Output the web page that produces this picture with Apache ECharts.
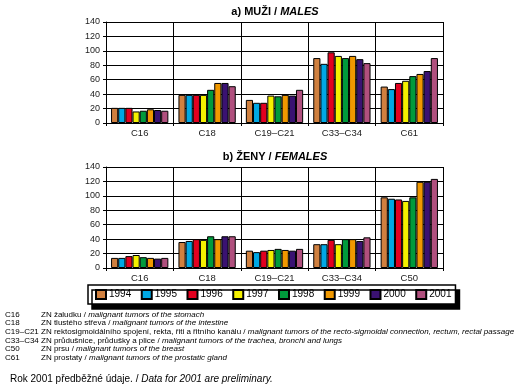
<!DOCTYPE html>
<html>
<head>
<meta charset="utf-8">
<script src="https://cdn.jsdelivr.net/npm/echarts@6/dist/echarts.min.js"></script>
<style>html,body{margin:0;padding:0;background:#fff}#c{width:527px;height:389px}</style>
</head>
<body>
<div id="c"></div>
<script>
var years = ['1994','1995','1996','1997','1998','1999','2000','2001'];
var colors = ['#D0803F','#00A8E4','#E2001F','#F4F000','#009A3C','#F09800','#3A1272','#B0507E'];
var catsMales = ['C16','C18','C19\u2013C21','C33\u2013C34','C61'];
var catsFemales = ['C16','C18','C19\u2013C21','C33\u2013C34','C50'];
var yTicks = [0,20,40,60,80,100,120,140];
// rows: years, columns: categories
var males = [
  [21, 39, 32, 90, 50.5],
  [21, 39, 28, 82, 47],
  [21, 39, 28, 98, 55.5],
  [16, 39, 38, 93, 58.5],
  [17, 46, 37, 90, 65],
  [19, 55.5, 39, 93, 68],
  [18, 55.5, 38, 88.5, 72],
  [17, 51, 46, 83, 90]
];
var females = [
  [14, 36, 24, 33, 98],
  [14, 37.5, 22, 33, 96],
  [16.5, 40, 24, 39, 95],
  [18, 39, 25, 33, 93],
  [15, 44, 26.5, 40, 98],
  [14, 40, 25, 40, 119.5],
  [13, 44, 24, 37.5, 119.5],
  [14, 44, 26.5, 42.5, 123.5]
];
var notes = [
  ['C16', 'ZN \u017ealudku / ', 'malignant tumors of the stomach'],
  ['C18', 'ZN tlust\u00e9ho st\u0159eva / ', 'malignant tumors of the intestine'],
  ['C19\u2013C21', 'ZN rektosigmoid\u00e1ln\u00edho spojen\u00ed, rekta, \u0159iti a \u0159itn\u00edho kan\u00e1lu / ', 'malignant tumors of the recto-sigmoidal connection, rectum, rectal passage'],
  ['C33\u2013C34', 'ZN pr\u016fdu\u0161nice, pr\u016fdu\u0161ky a plice / ', 'malignant tumors of the trachea, bronchi and lungs'],
  ['C50', 'ZN prsu / ', 'malignant tumors of the breast'],
  ['C61', 'ZN prostaty / ', 'malignant tumors of the prostatic gland']
];
var FONT = '"Liberation Sans", Arial, sans-serif';

var chart = echarts.init(document.getElementById('c'), null, {renderer:'canvas'});

function xAx(idx, cats){
  return {
    type:'category', gridIndex: idx, data: cats,
    axisLine:{show:true, lineStyle:{color:'#000', width:1}},
    axisTick:{show:true, interval:0, length:3, lineStyle:{color:'#000'}},
    splitLine:{show:true, interval:0, lineStyle:{color:'#000', width:1}},
    axisLabel:{color:'#222', fontFamily:FONT, fontSize:9.5, margin:5, interval:0}
  };
}
function yAx(idx){
  return {
    type:'value', gridIndex: idx, min: yTicks[0], max: yTicks[yTicks.length-1], interval: 20,
    axisLine:{show:true, lineStyle:{color:'#000', width:1}},
    axisTick:{show:true, length:3, lineStyle:{color:'#000'}},
    splitLine:{show:true, lineStyle:{color:'#000', width:1}},
    axisLabel:{color:'#222', fontFamily:FONT, fontSize:9, margin:6}
  };
}
var series = [];
[males, females].forEach(function(set, gi){
  set.forEach(function(vals, i){
    series.push({
      type:'bar', name: years[i], xAxisIndex: gi, yAxisIndex: gi,
      data: vals, barGap:'0%', barCategoryGap:'15%',
      itemStyle:{color: colors[i], borderColor:'#000', borderWidth:1},
      emphasis:{disabled:true}, animation:false
    });
  });
});

var graphics = [];
notes.forEach(function(n, i){
  var y = 315 + i*8.6;
  graphics.push({type:'text', left:5, top:y-4.5, style:{text:n[0], font:'8px '+FONT, fill:'#000'}});
  graphics.push({type:'text', left:41, top:y-4.5, style:{
    text:'{a|'+n[1]+'}{b|'+n[2]+'}',
    rich:{a:{fontFamily:FONT, fontSize:8, fill:'#000'}, b:{fontFamily:FONT, fontSize:8, fontStyle:'italic', fill:'#000'}}
  }});
});
graphics.push({type:'text', left:10, top:374, style:{
  text:'{a|Rok 2001 p\u0159edb\u011b\u017en\u00e9 \u00fadaje. / }{b|Data for 2001 are preliminary.}',
  rich:{a:{fontFamily:FONT, fontSize:10, fill:'#000'}, b:{fontFamily:FONT, fontSize:10, fontStyle:'italic', fill:'#000'}}
}});

chart.setOption({
  animation:false,
  color: colors,
  title:[
    {text:'{b|a) MU\u017dI / }{bi|MALES}', left:270, top:1, textAlign:'center',
     textStyle:{rich:{b:{fontFamily:FONT, fontSize:11, fontWeight:'bold', color:'#000'}, bi:{fontFamily:FONT, fontSize:11, fontWeight:'bold', fontStyle:'italic', color:'#000'}}}},
    {text:'{b|b) \u017dENY / }{bi|FEMALES}', left:270, top:146, textAlign:'center',
     textStyle:{rich:{b:{fontFamily:FONT, fontSize:11, fontWeight:'bold', color:'#000'}, bi:{fontFamily:FONT, fontSize:11, fontWeight:'bold', fontStyle:'italic', color:'#000'}}}}
  ],
  grid:[
    {left:106, top:22, width:337, height:101},
    {left:106, top:167, width:337, height:101}
  ],
  xAxis:[xAx(0, catsMales), xAx(1, catsFemales)],
  yAxis:[yAx(0), yAx(1)],
  legend:{
    data: years, left:88, top:285, width:380, orient:'horizontal',
    itemWidth:10, itemHeight:9, itemGap:9.5, icon:'rect',
    padding:[4,4,4,7],
    backgroundColor:'#fff', borderColor:'#000', borderWidth:1.5,
    shadowColor:'#000', shadowBlur:0, shadowOffsetX:4, shadowOffsetY:5,
    textStyle:{fontFamily:FONT, fontSize:10, color:'#000', padding:[0,0,0,-2]},
    selectedMode:false
  },
  series: series,
  graphic: graphics
});
</script>
</body>
</html>
